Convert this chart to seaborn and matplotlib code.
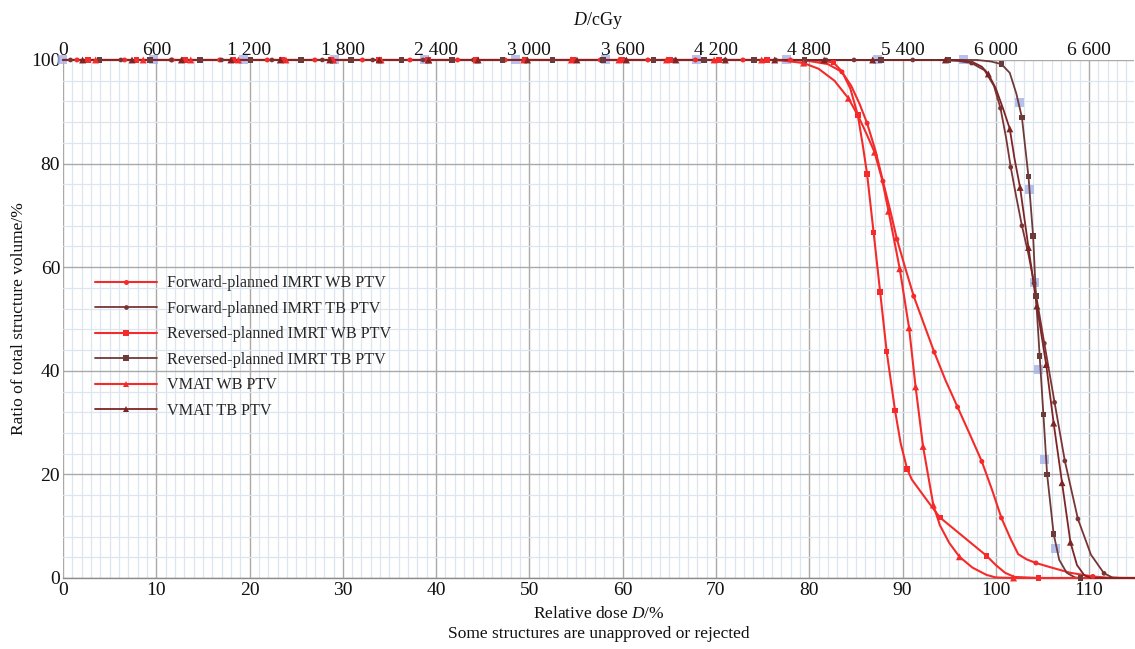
import numpy as np
import pandas as pd
import matplotlib
matplotlib.use("Agg")
import matplotlib.pyplot as plt
import seaborn as sns
from matplotlib.lines import Line2D
from matplotlib.legend_handler import HandlerLine2D
from matplotlib.ticker import MultipleLocator

# ---------------- data ----------------
series_names = ["Forward-planned IMRT WB PTV", "Forward-planned IMRT TB PTV",
                "Reversed-planned IMRT WB PTV", "Reversed-planned IMRT TB PTV",
                "VMAT WB PTV", "VMAT TB PTV"]

# Forward-planned WB: curve
fw_x = [0, 78, 80, 82, 83.5, 84.5, 85.4, 86.2, 87.1, 87.9, 88.7, 89.4, 90.3, 91.2, 92.3, 93.4,
        94.6, 95.9, 97.2, 98.5, 99.6, 100.6, 101.6, 102.4, 103.3, 104.3, 106.0, 108.0, 110.4, 112.0, 115]
fw_y = [100, 100, 99.8, 99.2, 97.7, 95.0, 91.5, 87.8, 82.5, 76.6, 70.8, 65.4, 59.8, 54.4, 49.0, 43.6,
        38.2, 33.0, 27.8, 22.5, 17.0, 11.6, 7.5, 4.6, 3.6, 2.9, 2.0, 1.0, 0.3, 0.05, 0]
fw_mx = [1.5, 6.6, 11.7, 16.8, 21.9, 27.0, 32.1, 37.2, 42.3, 47.4, 52.5, 57.6, 62.7, 67.8, 72.9, 78.0,
         83.5, 86.2, 87.9, 89.4, 91.2, 93.4, 95.9, 98.5, 100.6, 104.3, 110.4]
fw_my = [100] * 16 + [97.7, 87.8, 76.6, 65.4, 54.4, 43.6, 33.0, 22.5, 11.6, 2.9, 0.3]

# Forward-planned TB
ft_x = [0, 94, 96, 97.4, 98.8, 99.8, 100.5, 101.1, 101.6, 102.2, 102.8, 103.5, 104.1, 105.2,
        106.3, 107.4, 108.8, 110.2, 111.6, 112.5, 113.5, 115]
ft_y = [100, 100, 99.8, 99.4, 98.0, 95.0, 90.7, 85.0, 79.3, 73.5, 68.0, 62.5, 56.9, 45.3,
        33.9, 22.6, 11.4, 4.5, 0.9, 0.1, 0, 0]
ft_mx = [0.8, 6.2, 11.6, 17.0, 22.4, 27.8, 33.2, 38.6, 44.0, 49.4, 54.8, 60.2, 65.6, 71.0, 76.4,
         81.8, 84.8, 91.1, 97.4, 100.5, 101.6, 102.8, 104.1, 105.2, 106.3, 107.4, 108.8, 111.6]
ft_my = [100] * 18 + [99.4, 90.7, 79.3, 68.0, 56.9, 45.3, 33.9, 22.6, 11.4, 0.9]

# Reversed-planned WB
rw_x = [0, 80, 81.5, 82.6, 83.5, 84.4, 85.2, 85.7, 86.2, 86.9, 87.6, 88.3, 89.2, 89.8, 90.5,
        91.0, 92.5, 94.0, 96.5, 99.0, 100.0, 101.0, 102.0, 104.6, 115]
rw_y = [100, 100, 99.8, 99.5, 97.8, 94.5, 89.4, 84.0, 78.0, 66.7, 55.2, 43.7, 32.3, 26.0, 21.0,
        19.0, 15.3, 11.7, 8.0, 4.3, 2.5, 1.0, 0.2, 0, 0]
rw_mx = [2.7, 7.9, 13.1, 18.3, 23.5, 28.7, 33.9, 39.1, 44.3, 49.5, 54.7, 59.9, 65.1, 70.3, 75.5,
         82.6, 85.2, 86.2, 86.9, 87.6, 88.3, 89.2, 90.5, 94.0, 99.0, 104.6]
rw_my = [100] * 15 + [99.5, 89.4, 78.0, 66.7, 55.2, 43.7, 32.3, 21.0, 11.7, 4.3, 0]

# Reversed-planned TB
rt_x = [0, 98, 99.5, 100.6, 101.5, 102.2, 102.8, 103.5, 104.0, 104.3, 104.7, 105.1, 105.5,
        106.2, 106.8, 107.6, 108.5, 109.1, 115]
rt_y = [100, 100, 99.7, 99.2, 97.5, 93.5, 88.9, 77.5, 66.0, 54.4, 42.9, 31.6, 20.0,
        8.5, 3.5, 1.0, 0.1, 0, 0]
rt_mx = [3.9, 9.3, 14.7, 20.1, 25.5, 30.9, 36.3, 41.7, 47.1, 52.5, 57.9, 63.3, 68.7, 74.1, 79.5,
         87.7, 94.9, 100.6, 102.8, 103.5, 104.0, 104.3, 104.7, 105.1, 105.5, 106.2, 109.1]
rt_my = [100] * 17 + [99.2, 88.9, 77.5, 66.0, 54.4, 42.9, 31.6, 20.0, 8.5, 0]

# VMAT WB
vw_x = [0, 76, 77, 78.5, 79.4, 81.0, 82.7, 84.2, 85.3, 86.2, 87.0, 87.8, 88.5, 89.7, 90.7, 91.4,
        92.2, 93.3, 94.0, 95.0, 96.1, 97.5, 99.0, 100.0, 101.9, 115]
vw_y = [100, 100, 99.9, 99.6, 99.4, 98.3, 96.0, 92.6, 89.0, 85.5, 82.2, 77.0, 70.8, 59.7, 48.3, 36.9,
        25.4, 14.1, 10.2, 6.8, 4.1, 2.0, 0.6, 0.1, 0, 0]
vw_mx = [3.5, 8.6, 13.7, 18.8, 23.9, 29.0, 34.1, 39.2, 44.3, 49.4, 54.5, 59.6, 64.7, 69.8, 74.9,
         79.4, 84.2, 87.0, 88.5, 89.7, 90.7, 91.4, 92.2, 93.3, 96.1, 101.9]
vw_my = [100] * 15 + [99.4, 92.6, 82.2, 70.8, 59.7, 48.3, 36.9, 25.4, 14.1, 4.1, 0]

# VMAT TB
vt_x = [0, 96, 97.5, 98.5, 99.2, 100.0, 100.8, 101.5, 102.0, 102.6, 103.5, 104.4, 105.4, 106.2,
        107.1, 108.0, 108.7, 109.5, 110.2, 115]
vt_y = [100, 100, 99.6, 98.7, 97.3, 94.5, 90.5, 86.7, 81.0, 75.4, 63.8, 52.5, 41.2, 29.9,
        18.4, 6.9, 2.5, 0.5, 0, 0]
vt_mx = [2.1, 7.4, 12.7, 18.0, 23.3, 28.6, 33.9, 39.2, 44.5, 49.8, 55.1, 60.4, 65.7, 71.0, 76.3,
         81.6, 86.8, 94.6, 99.2, 101.5, 102.6, 103.5, 104.4, 105.4, 106.2, 107.1, 108.0]
vt_my = [100] * 18 + [97.3, 86.7, 75.4, 63.8, 52.5, 41.2, 29.9, 18.4, 6.9]

# faint light-blue sample markers
blue_x = [0, 9.7, 19.4, 29.1, 38.8, 48.5, 58.2, 67.9, 77.6, 87.3, 96.5,
          102.5, 103.6, 104.1, 104.6, 105.2, 106.4]
blue_y = [100] * 11 + [91.7, 74.9, 57.0, 40.2, 22.8, 5.6]

x_ticks = [0, 10, 20, 30, 40, 50, 60, 70, 80, 90, 100, 110]
y_ticks = [0, 20, 40, 60, 80, 100]
top_tick_labels = ["0", "600", "1 200", "1 800", "2 400", "3 000", "3 600",
                   "4 200", "4 800", "5 400", "6 000", "6 600"]

# ---------------- styling ----------------
sns.set_theme(style="white")
plt.rcParams["font.family"] = ["Liberation Serif", "DejaVu Serif"]
plt.rcParams["mathtext.fontset"] = "custom"
plt.rcParams["mathtext.rm"] = "Liberation Serif"
plt.rcParams["mathtext.it"] = "Liberation Serif:italic"

RED = "#f52a2a"
DARK1 = "#7a3434"
DARK2 = "#6d3a3a"
DARK3 = "#7e2424"

fig = plt.figure(figsize=(11.35, 6.49), dpi=100)
ax = fig.add_axes([0.0555, 0.1094, 0.9445 - 0.001, 0.7982])
ax.set_facecolor("white")

# grid
ax.set_xlim(0, 114.8)
ax.set_ylim(0, 100)
ax.xaxis.set_major_locator(MultipleLocator(10))
ax.xaxis.set_minor_locator(MultipleLocator(1))
ax.yaxis.set_major_locator(MultipleLocator(20))
ax.yaxis.set_minor_locator(MultipleLocator(4))
ax.grid(which="minor", color="#dde5ee", linewidth=0.9)
ax.grid(which="major", color="#a9a9a9", linewidth=1.0)
ax.set_axisbelow(True)
for s in ["top", "right", "left"]:
    ax.spines[s].set_visible(False)
ax.spines["bottom"].set_color("#8c8c8c")
ax.spines["bottom"].set_linewidth(1.0)

specs = [
    (series_names[0], fw_x, fw_y, fw_mx, fw_my, RED, "o", 3.6, 1.5),
    (series_names[1], ft_x, ft_y, ft_mx, ft_my, DARK1, "o", 3.4, 1.3),
    (series_names[2], rw_x, rw_y, rw_mx, rw_my, RED, "s", 4.0, 1.5),
    (series_names[3], rt_x, rt_y, rt_mx, rt_my, DARK2, "s", 4.0, 1.3),
    (series_names[4], vw_x, vw_y, vw_mx, vw_my, RED, "^", 5.0, 1.5),
    (series_names[5], vt_x, vt_y, vt_mx, vt_my, DARK3, "^", 5.0, 1.3),
]

# blue sample markers under the curves
sns.scatterplot(x=blue_x, y=blue_y, ax=ax, marker="s", s=42, color="#a5b2ea",
                alpha=0.8, edgecolor="none", zorder=2, clip_on=False, legend=False)

handles = []
for name, cx, cy, mx, my, col, mk, ms, lw in specs:
    df = pd.DataFrame({"x": cx, "y": cy})
    sns.lineplot(data=df, x="x", y="y", ax=ax, color=col, linewidth=lw, sort=False,
                 estimator=None, zorder=3, clip_on=False, legend=False)
    sns.scatterplot(x=mx, y=my, ax=ax, marker=mk, s=ms ** 2, color=col, edgecolor="none",
                    linewidth=0, zorder=4, clip_on=False, legend=False)
    handles.append(Line2D([], [], color=col, linewidth=lw, marker=mk, markersize=ms,
                          markeredgewidth=0, label=name))


class RightMarkerHandler(HandlerLine2D):
    def get_xdata(self, legend, xdescent, ydescent, width, height, fontsize):
        xd, _ = super().get_xdata(legend, xdescent, ydescent, width, height, fontsize)
        return xd, np.array([-xdescent + 0.75 * width])


leg = ax.legend(handles=handles, loc="upper left", bbox_to_anchor=(0.022, 0.6),
                frameon=False, fontsize=11.6, handlelength=3.9, handletextpad=0.6,
                labelspacing=0.59, borderpad=0, numpoints=1,
                handler_map={Line2D: RightMarkerHandler(numpoints=1)})

# ticks
ax.set_xticks(x_ticks)
ax.set_yticks(y_ticks)
ax.tick_params(axis="both", which="both", length=0, labelsize=14, colors="#111111")
ax.tick_params(axis="x", pad=3)
ax.tick_params(axis="y", pad=2)
ax.set_xlabel("Relative dose $D$/%\nSome structures are unapproved or rejected",
              fontsize=12.5, color="#111111", labelpad=5, linespacing=1.3)
ax.set_ylabel("Ratio of total structure volume/%", fontsize=12.5, color="#111111", labelpad=3)

top = ax.secondary_xaxis("top")
top.set_xticks(x_ticks)
top.set_xticklabels(top_tick_labels)
top.tick_params(length=0, labelsize=14, colors="#111111", pad=1)
top.spines["top"].set_visible(False)
top.set_xlabel("$D$/cGy", fontsize=13, color="#111111", labelpad=12)

fig.savefig("out.png", dpi=100, facecolor="white")
